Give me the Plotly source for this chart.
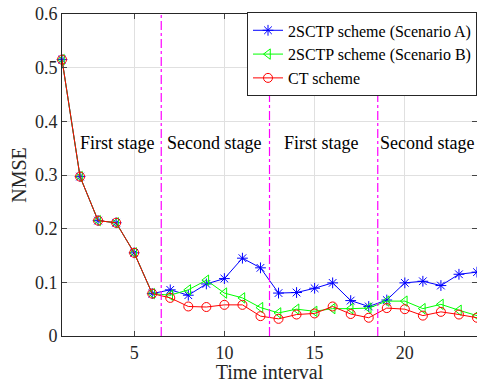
import plotly.graph_objects as go

time_interval = list(range(1, 25))
nmse_a = [0.515, 0.297, 0.215, 0.211, 0.155, 0.079, 0.086, 0.076, 0.097, 0.107, 0.145, 0.127,
          0.080, 0.081, 0.089, 0.099, 0.066, 0.055, 0.067, 0.099, 0.102, 0.094, 0.115, 0.119]
nmse_b = [0.515, 0.297, 0.215, 0.211, 0.155, 0.079, 0.076, 0.086, 0.104, 0.080, 0.071, 0.053,
          0.043, 0.050, 0.046, 0.051, 0.051, 0.052, 0.065, 0.065, 0.051, 0.059, 0.048, 0.038]
nmse_ct = [0.515, 0.297, 0.215, 0.211, 0.155, 0.079, 0.071, 0.055, 0.054, 0.058, 0.058, 0.037,
           0.032, 0.040, 0.042, 0.055, 0.041, 0.034, 0.052, 0.050, 0.038, 0.045, 0.040, 0.034]
series_names = ["2SCTP scheme (Scenario A)", "2SCTP scheme (Scenario B)", "CT scheme"]
stage_boundaries = [6.5, 12.5, 18.5]
stage_labels = ["First stage", "Second stage", "First stage", "Second stage"]
stage_label_x = [4.1, 9.4, 15.4, 21.25]
stage_label_y = 0.36
y_ticks = [0, 0.1, 0.2, 0.3, 0.4, 0.5, 0.6]
x_ticks = [5, 10, 15, 20]

font_family = "Times New Roman, Liberation Serif, serif"

fig = go.Figure()
styles = [
    ("#0000ff", "asterisk-open"),
    ("#00ff00", "triangle-left-open"),
    ("#ff0000", "circle-open"),
]
for name, ys, (col, sym) in zip(series_names, [nmse_a, nmse_b, nmse_ct], styles):
    fig.add_trace(go.Scatter(
        x=time_interval, y=ys, name=name, mode="lines+markers",
        line=dict(color=col, width=1),
        marker=dict(symbol=sym, size=9, color=col, line=dict(color=col, width=1)),
        cliponaxis=False,
    ))

for xb in stage_boundaries:
    fig.add_shape(type="line", x0=xb, x1=xb, y0=0, y1=1, xref="x", yref="paper",
                  line=dict(color="#ff00ff", width=1.2, dash="dashdot"))

for lbl, lx in zip(stage_labels, stage_label_x):
    fig.add_annotation(x=lx, y=stage_label_y, text=lbl, showarrow=False,
                       font=dict(family=font_family, size=18, color="#000000"))

fig.update_layout(
    width=477, height=383,
    margin=dict(l=62, r=0, t=14, b=47),
    paper_bgcolor="white", plot_bgcolor="white",
    font=dict(family=font_family, size=17, color="#262626"),
    showlegend=True,
    legend=dict(x=1, y=1.005, xanchor="right", yanchor="top",
                bgcolor="white", bordercolor="#262626", borderwidth=1,
                font=dict(family=font_family, size=16, color="#000000"),
                tracegroupgap=0, itemsizing="trace"),
    xaxis=dict(range=[1, 24], tickvals=x_ticks, ticks="inside", ticklen=5,
               showline=True, linecolor="#262626", linewidth=1, mirror="ticks",
               showgrid=True, gridcolor="#e0e0e0", zeroline=False,
               title=dict(text="Time interval", font=dict(family=font_family, size=20, color="#262626"), standoff=2),
               tickfont=dict(family=font_family, size=18, color="#262626")),
    yaxis=dict(range=[0, 0.6], tickvals=y_ticks, ticktext=[f"{v:g}" for v in y_ticks],
               ticks="inside", ticklen=5,
               showline=True, linecolor="#262626", linewidth=1, mirror="ticks",
               showgrid=True, gridcolor="#e0e0e0", zeroline=False,
               title=dict(text="NMSE", font=dict(family=font_family, size=20, color="#262626"), standoff=2),
               tickfont=dict(family=font_family, size=18, color="#262626")),
)

fig.write_html("out.html")
